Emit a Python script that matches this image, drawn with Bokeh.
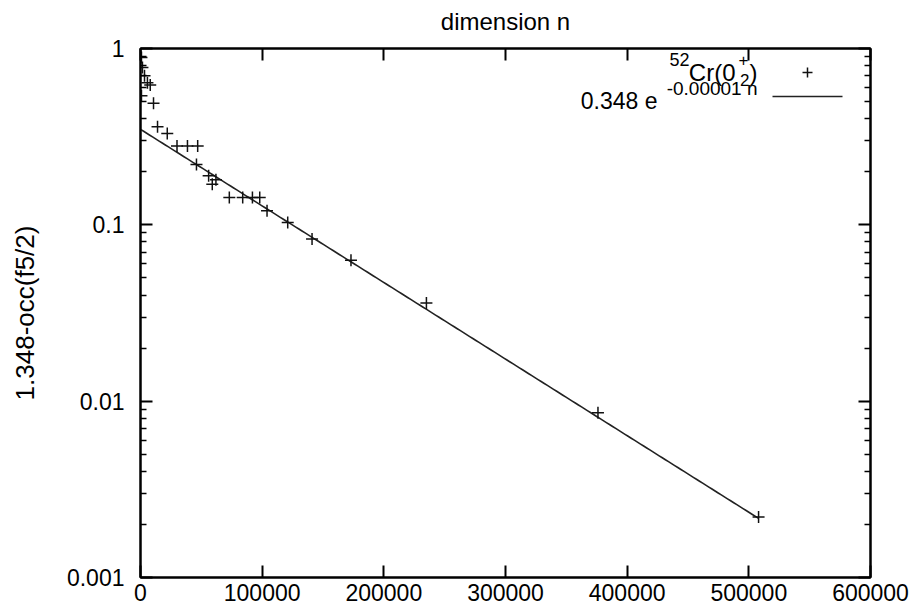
import numpy as np
from bokeh.plotting import figure
from bokeh.models import (Range1d, LogAxis, LinearAxis, CustomJSTickFormatter,
                          Label, FixedTicker, NumeralTickFormatter)
from bokeh.embed import file_html
from bokeh.resources import INLINE

# ---- data ----
dimension_n = [800, 1600, 3300, 5700, 800, 8000, 10700, 14000, 22000, 30000,
               38600, 47000, 46000, 56000, 59000, 62000, 73000, 84000, 92000,
               98000, 104000, 121000, 141000, 173000, 235000, 376000, 508000]
occ_diff = [0.89, 0.78, 0.70, 0.64, 0.54, 0.62, 0.49, 0.36, 0.33, 0.28,
            0.28, 0.28, 0.22, 0.19, 0.17, 0.18, 0.143, 0.143, 0.143,
            0.143, 0.12, 0.103, 0.083, 0.063, 0.036, 0.0086, 0.0022]
fit_amplitude = 0.348
fit_rate = 0.00001
x_ticks = [0, 100000, 200000, 300000, 400000, 500000, 600000]
y_ticks = [0.001, 0.01, 0.1, 1]
y_minor = [m * 10.0 ** e for e in (-3, -2, -1) for m in range(2, 10)]

FONT = "Liberation Sans"

# frame geometry helpers (pixel -> data) for the hand-drawn legend
FL, FR, FT, FB = 140, 870, 48, 577
def px_x(px):
    return (px - FL) / (FR - FL) * 600000
def px_y(py):
    return 10 ** (-(py - FT) / (FB - FT) * 3)

p = figure(width=918, height=611, x_range=Range1d(0, 600000),
           y_range=Range1d(0.001, 1), y_axis_type="log",
           output_backend="svg", toolbar_location=None,
           min_border_left=FL, min_border_right=918 - FR,
           min_border_top=FT, min_border_bottom=611 - FB)
p.grid.visible = False
p.outline_line_color = "black"
p.outline_line_width = 2

blank = CustomJSTickFormatter(code="return ''")

def style(ax):
    ax.axis_line_width = 2
    ax.axis_line_color = "black"
    ax.major_tick_in = 12
    ax.major_tick_out = 0
    ax.minor_tick_in = 6
    ax.minor_tick_out = 0
    ax.major_tick_line_width = 2
    ax.minor_tick_line_width = 1.5
    ax.major_tick_line_color = "black"
    ax.minor_tick_line_color = "black"
    ax.major_label_text_font = FONT
    ax.major_label_text_font_size = "23px"
    ax.major_label_text_color = "black"
    ax.axis_label_text_font = FONT
    ax.axis_label_text_font_style = "normal"
    ax.axis_label_text_color = "black"

xa = p.xaxis[0]
xa.ticker = FixedTicker(ticks=x_ticks, minor_ticks=[])
xa.formatter = NumeralTickFormatter(format="0")
style(xa)
xa.major_label_standoff = 6

ya = p.yaxis[0]
ya.ticker = FixedTicker(ticks=y_ticks, minor_ticks=y_minor)
ya.formatter = CustomJSTickFormatter(code="return tick.toString()")
style(ya)
ya.major_label_standoff = 16
ya.axis_label = "1.348-occ(f5/2)"
ya.axis_label_text_font_size = "26px"
ya.axis_label_standoff = 24

top = LinearAxis(ticker=FixedTicker(ticks=x_ticks, minor_ticks=[]), formatter=blank)
style(top)
top.axis_label = "dimension n"
top.axis_label_text_font_size = "24px"
top.major_label_standoff = 0
top.axis_label_standoff = 14
p.add_layout(top, "above")

right = LogAxis(ticker=FixedTicker(ticks=y_ticks, minor_ticks=y_minor), formatter=blank)
style(right)
right.major_label_standoff = 0
p.add_layout(right, "right")

# fit line
n_fit = np.linspace(0, max(dimension_n), 200)
p.line(n_fit, fit_amplitude * np.exp(-fit_rate * n_fit), line_color="#222222", line_width=1.6)

# data points
p.scatter(dimension_n, occ_diff, marker="cross", size=12, line_color="#111111", line_width=1.5)

# legend (drawn by hand for the super/subscripts)
def lab(text, px, py, size, align="right"):
    p.add_layout(Label(x=px_x(px), y=px_y(py), text=text, text_font=FONT,
                       text_font_size=size, text_align=align,
                       text_baseline="alphabetic", text_color="black"))

lab(")", 757, 72, "24px")
lab("2", 749, 79, "17px")
lab("+", 748, 59, "17px")
lab("Cr(0", 735, 72, "24px")
lab("52", 689, 59, "18px")
p.scatter([px_x(807)], [px_y(72)], marker="cross", size=10, line_color="#111111", line_width=1.5)

lab("0.348 e", 657, 100, "23px")
lab("-0.00001 n", 757, 88, "19px")
p.line([px_x(772), px_x(842)], [px_y(96), px_y(96)], line_color="#222222", line_width=1.6)

open("out.html", "w").write(file_html(p, INLINE))
